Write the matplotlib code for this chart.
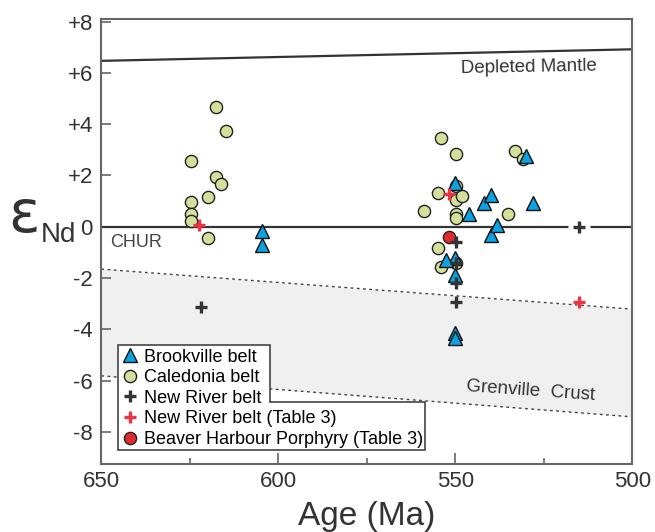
import matplotlib
matplotlib.use("Agg")
import matplotlib.pyplot as plt
from matplotlib.lines import Line2D
from matplotlib.patches import Polygon
from matplotlib.ticker import FuncFormatter, MultipleLocator
import numpy as np

plt.rcParams['font.family'] = ['Liberation Sans', 'DejaVu Sans']

# ---------------- data ----------------
brook_age = [604.7, 604.7, 550, 550, 550, 550, 550, 552.7, 546.1, 541.9, 539.8, 539.8, 538.1, 530.1, 528.0]
brook_eps = [-0.16, -0.71, 1.69, -1.23, -1.86, -4.16, -4.35, -1.30, 0.48, 0.91, 1.24, -0.32, 0.07, 2.76, 0.91]

cal_age = [624.7, 624.7, 624.7, 624.7, 619.8, 619.8, 617.7, 617.7, 616.1, 614.8,
           553.9, 553.9, 549.9, 549.9, 549.9, 549.9, 549.9, 549.9, 548.0, 554.9, 554.9,
           558.9, 535.1, 533.2, 531.0]
cal_eps = [2.57, 0.97, 0.50, 0.22, 1.15, -0.43, 4.68, 1.95, 1.66, 3.74,
           3.47, -1.56, 2.82, 1.60, 1.04, 0.48, 0.33, -1.43, 1.20, 1.30, -0.82,
           0.62, 0.50, 2.96, 2.63]

nr_age = [621.9, 549.7, 549.7, 549.7, 549.7, 515.1]
nr_eps = [-3.13, -0.58, -1.40, -2.21, -2.92, 0.0]

nr3_age = [622.5, 551.8, 515.1]
nr3_eps = [0.08, 1.27, -2.95]

bh_age = [551.8]
bh_eps = [-0.41]

# reference lines (age, epsilon)
dm_age = [650, 500]
dm_eps = [6.47, 6.92]
chur_age = [650, 500]
chur_eps = [0, 0]
gc_age = [650, 500]
gc_upper = [-1.65, -3.21]
gc_lower = [-5.81, -7.41]

xticks = [650, 600, 550, 500]
yticks = [8, 6, 4, 2, 0, -2, -4, -6, -8]

legend_labels = ["Brookville belt", "Caledonia belt", "New River belt",
                 "New River belt (Table 3)", "Beaver Harbour Porphyry (Table 3)"]

# ---------------- style ----------------
W, H = 655, 532
fig = plt.figure(figsize=(W / 100, H / 100), dpi=100)
ax = fig.add_axes([101.3 / W, 1 - 464.3 / H, 531 / W, 445 / H])

tri_c = '#0aa2e0'
cal_c = '#d3e09b'
dark = '#333333'
red_c = '#ee3344'
redc_c = '#e02a30'

ax.set_xlim(650, 500)
ax.set_ylim(-9.26, 8.09)

# Grenville crust band
ax.fill_between(gc_age, gc_upper, gc_lower, color='#f0f0f0', zorder=1, lw=0)
ax.plot(gc_age, gc_upper, color='#444444', lw=1.0, ls=(0, (2, 2.5)), zorder=2)
ax.plot(gc_age, gc_lower, color='#444444', lw=1.0, ls=(0, (2, 2.5)), zorder=2)

# DM and CHUR
ax.plot(dm_age, dm_eps, color=dark, lw=1.6, zorder=2)
ax.plot(chur_age, chur_eps, color=dark, lw=1.6, zorder=2)

ms_c = 8.8
# Caledonia circles
ax.plot(cal_age, cal_eps, ls='none', marker='o', ms=ms_c, mfc=cal_c, mec='#222222', mew=1.0, zorder=3)
# Brookville triangles
ax.plot(brook_age, brook_eps, ls='none', marker='^', ms=9.5, mfc=tri_c, mec='#111111', mew=1.0, zorder=4)
# Beaver Harbour
ax.plot(bh_age, bh_eps, ls='none', marker='o', ms=ms_c, mfc=redc_c, mec='#222222', mew=1.0, zorder=4)
# white gap behind New River cross on CHUR line
ax.plot(nr_age[-1:], nr_eps[-1:], ls='none', marker='s', ms=16, mfc='white', mec='none', zorder=2.5)
# New River crosses
ax.plot(nr_age, nr_eps, ls='none', marker='+', ms=8.5, mec=dark, mew=2.4, zorder=5)
ax.plot(nr3_age, nr3_eps, ls='none', marker='+', ms=8.5, mec=red_c, mew=2.4, zorder=5)

# annotations
ax.text(647.6, -0.62, 'CHUR', fontsize=13, color='#444444', ha='left', va='center', zorder=3)
ax.text(529.1, 6.23, 'Depleted Mantle', fontsize=13.5, color='#333333', ha='center', va='center',
        rotation=1, zorder=3)
ax.text(528.7, -6.4, 'Grenville  Crust', fontsize=13.5, color='#333333', ha='center', va='center',
        rotation=-4, zorder=3)

# axes styling
for s in ax.spines.values():
    s.set_color('#666666')
    s.set_linewidth(1.5)
ax.set_xticks(xticks)
ax.xaxis.set_minor_locator(MultipleLocator(25))
ax.set_yticks(yticks)
ax.yaxis.set_major_formatter(FuncFormatter(lambda v, p: (f"+{v:g}" if v > 0 else f"{v:g}")))
ax.tick_params(axis='both', which='major', direction='in', length=7, width=1.2,
               color='#666666', labelsize=16, labelcolor='#333333')
ax.tick_params(axis='x', which='major', length=8, pad=5)
ax.tick_params(axis='x', which='minor', direction='in', length=4, width=1.2, color='#666666')
ax.tick_params(axis='y', which='major', pad=6)

ax.set_xlabel('Age (Ma)', fontsize=24, color='#333333', labelpad=6)

# epsilon Nd label
fig.text(8 / W, 1 - 232 / H, 'ε', fontsize=42, family='DejaVu Sans', color='#333333',
         ha='left', va='baseline')
fig.text(41 / W, 1 - 241.7 / H, 'Nd', fontsize=20, color='#333333', ha='left', va='baseline')

# legend
handles = [
    Line2D([], [], ls='none', marker='^', ms=9.5, mfc=tri_c, mec='#111111', mew=1.0),
    Line2D([], [], ls='none', marker='o', ms=ms_c, mfc=cal_c, mec='#222222', mew=1.0),
    Line2D([], [], ls='none', marker='+', ms=8.5, mec=dark, mew=2.4),
    Line2D([], [], ls='none', marker='+', ms=8.5, mec=red_c, mew=2.4),
    Line2D([], [], ls='none', marker='o', ms=ms_c, mfc=redc_c, mec='#222222', mew=1.0),
]
leg = ax.legend(handles, legend_labels, loc='upper left',
                bbox_to_anchor=(118 / W, 1 - 344 / H), bbox_transform=fig.transFigure,
                frameon=False, fontsize=13, labelspacing=0.2, handlelength=0.8,
                handletextpad=0.4, borderpad=0.25, borderaxespad=0)
leg.set_zorder(6)

# notched legend frame
pts = [(118, 345), (270, 345), (270, 401.7), (425, 401.7), (425, 450), (118, 450)]
poly = Polygon([(x / W, 1 - y / H) for x, y in pts], closed=True, transform=fig.transFigure,
               facecolor='white', edgecolor='#444444', lw=1.2, zorder=5.5, clip_on=False)
ax.add_patch(poly)

fig.savefig('out.png', dpi=100)
